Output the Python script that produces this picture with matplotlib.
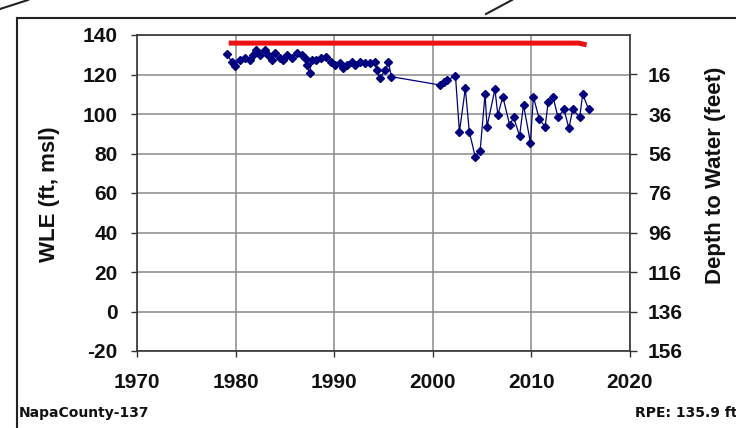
import matplotlib
matplotlib.use("Agg")
import matplotlib.pyplot as plt
from matplotlib.lines import Line2D

# ---- data ----
years = [1979.1, 1979.6, 1979.9, 1980.4, 1981.0, 1981.5, 1981.8, 1982.1, 1982.5, 1983.0,
         1983.3, 1983.7, 1984.0, 1984.5, 1984.8, 1985.2, 1985.7, 1986.2, 1986.7, 1987.0,
         1987.2, 1987.5, 1987.7, 1988.2, 1988.7, 1989.2, 1989.7, 1990.1, 1990.6, 1990.9,
         1991.3, 1991.8, 1992.1, 1992.6, 1993.1, 1993.6, 1994.1, 1994.3, 1994.6, 1995.2,
         1995.5, 1995.8, 2000.7, 2001.1, 2001.4, 2002.3, 2002.7, 2003.3, 2003.7, 2004.3,
         2004.8, 2005.3, 2005.5, 2006.3, 2006.6, 2007.1, 2007.8, 2008.2, 2008.8, 2009.2,
         2009.9, 2010.2, 2010.8, 2011.4, 2011.7, 2012.2, 2012.7, 2013.3, 2013.8, 2014.2,
         2014.9, 2015.2, 2015.8]
wle = [130.4, 126.5, 124.3, 127.3, 128.2, 127.3, 129.9, 132.4, 129.9, 132.4,
       129.9, 127.3, 130.7, 128.2, 127.3, 129.9, 128.2, 130.7, 129.9, 128.2,
       124.8, 120.6, 127.3, 127.3, 128.2, 129.0, 126.5, 124.8, 125.7, 123.1,
       124.8, 126.5, 124.8, 126.5, 125.7, 125.7, 126.5, 122.3, 118.1, 122.3,
       126.2, 118.9, 114.7, 116.4, 117.2, 119.2, 91.0, 113.0, 91.0, 78.4,
       81.4, 110.1, 93.6, 112.5, 99.5, 108.8, 94.4, 98.3, 88.9, 104.6,
       85.5, 108.8, 97.3, 93.6, 106.2, 108.4, 98.3, 102.4, 92.8, 102.4,
       98.3, 110.1, 102.4]
rpe_years = [1979.3, 2014.8, 2015.6]
rpe_vals = [135.9, 135.9, 135.0]

x_ticks = [1970, 1980, 1990, 2000, 2010, 2020]
y_ticks = [-20, 0, 20, 40, 60, 80, 100, 120, 140]
depth_ticks = [16, 36, 56, 76, 96, 116, 136, 156]

plt.rcParams['font.family'] = ['Liberation Sans', 'DejaVu Sans']
plt.rcParams['axes.unicode_minus'] = False

fig = plt.figure(figsize=(7.36, 4.28), dpi=100)
ax = fig.add_axes([137/736, 1-351/428, (630-137)/736, (351-35)/428])

ax.plot(rpe_years, rpe_vals, color='#ee1111', lw=3.6, solid_capstyle='butt', zorder=3)
ax.plot(years, wle, color='#000080', lw=0.9, marker='D', markersize=4.4,
        markerfacecolor='#000080', markeredgecolor='#000080', zorder=4)

ax.set_xlim(1970, 2020)
ax.set_ylim(-20, 140)
ax.set_xticks(x_ticks)
ax.set_yticks(y_ticks)
ax.grid(True, color='#8a8a8a', lw=1.1)
ax.set_axisbelow(True)
for s in ax.spines.values():
    s.set_color('#333333')
    s.set_linewidth(1.2)
ax.tick_params(axis='both', direction='out', length=4, width=1, colors='#333333',
               labelsize=15, labelcolor='#111111')
ax.tick_params(axis='x', pad=12)
ax.tick_params(axis='y', pad=10)
for lab in ax.get_xticklabels() + ax.get_yticklabels():
    lab.set_fontweight('bold')

ax2 = ax.twinx()
ax2.set_ylim(156, -4)
ax2.set_yticks(depth_ticks)
ax2.tick_params(axis='y', direction='out', length=5, width=1, colors='#333333',
                labelsize=15, labelcolor='#111111', pad=8)
for lab in ax2.get_yticklabels():
    lab.set_fontweight('bold')
for s in ax2.spines.values():
    s.set_visible(False)

fig.text(49/736, 1-194/428, 'WLE (ft, msl)', rotation=90, fontsize=16,
         fontweight='bold', color='#111111', ha='center', va='center')
fig.text(715/736, 1-175/428, 'Depth to Water (feet)', rotation=90, fontsize=16,
         fontweight='bold', color='#111111', ha='center', va='center')

fig.text(19/736, 1-413/428, 'NapaCounty-137', fontsize=10, fontweight='bold',
         family=['DejaVu Sans'], ha='left', va='center', color='#111111')
fig.text(737/736, 1-413/428, 'RPE: 135.9 ft', fontsize=10, fontweight='bold',
         family=['DejaVu Sans'], ha='right', va='center', color='#111111')

# outer frame/callout decorations
for (xs, ys) in [([17, 17], [18, 428]), ([17, 736], [18, 18]),
                 ([0, 28], [9, 0]), ([486, 512], [14, 0])]:
    fig.add_artist(Line2D([x/736 for x in xs], [1-y/428 for y in ys],
                          color='#222222', lw=1.5, transform=fig.transFigure))

fig.savefig('out.png', dpi=100, facecolor='white')
